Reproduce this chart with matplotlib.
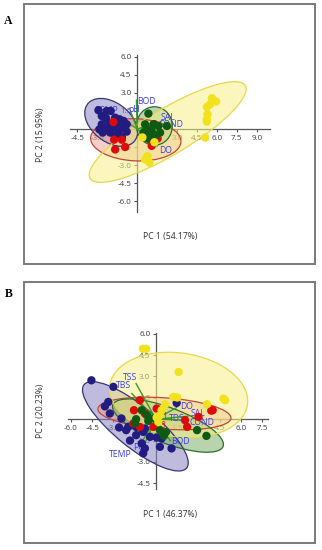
import matplotlib
matplotlib.use("Agg")
import matplotlib.pyplot as plt
from matplotlib.patches import Ellipse, Rectangle
import numpy as np

plt.rcParams['font.family'] = ['Open Sans', 'DejaVu Sans']

# ---------------- Panel A data ----------------
a_navy_x = [-2.91, -2.29, -1.99, -2.66, -2.33, -1.65, -1.32, -1.02, -0.78, -2.66, -2.08,
            -1.53, -2.84, -2.29, -1.78, -1.15, -2.03, -2.59, -1.40, -0.78, -1.15, -1.65]
a_navy_y = [1.56, 1.50, 1.50, 1.08, 0.89, 0.94, 0.81, 0.67, 0.39, 0.39, 0.44,
            0.39, -0.03, -0.03, 0.11, 0.11, -0.30, -0.30, -0.30, -0.22, -0.67, -0.58]
a_red_x = [-1.78, -1.73, -1.65, -1.15, -0.90, 0.98, 1.54, 1.10, 1.30]
a_red_y = [0.58, -0.89, -1.70, -0.89, -1.50, -0.89, -0.80, -1.40, 0.40]
a_green_x = [0.85, 0.60, 1.23, 1.60, 0.73, 1.10, 0.48, 0.98, 1.36, 1.73, 2.24, 0.78]
a_green_y = [1.28, 0.39, 0.39, 0.25, -0.03, -0.17, -0.30, -0.44, -0.58, -0.30, 0.25, -0.78]
a_yellow_x = [5.63, 5.95, 5.50, 5.25, 5.30, 5.25, 5.25, 5.12, 0.78, 0.60, 0.93, 0.40, 1.30]
a_yellow_y = [2.56, 2.28, 2.06, 1.83, 1.22, 0.80, 0.61, -0.72, -2.25, -2.53, -2.80, -0.70, -1.10]

# confidence ellipses: centre x, centre y, width, height, angle (navy, red, green, yellow)
a_ell_cx = [-1.95, -0.10, 1.30, 2.30]
a_ell_cy = [0.55, -0.90, 0.25, -0.25]
a_ell_w = [4.7, 6.8, 2.7, 14.0]
a_ell_h = [3.1, 3.5, 3.2, 3.7]
a_ell_ang = [-45, -3, 0, 33.8]

a_load_names = ["BOD", "pH", "TEMP", "SAL", "COND", "DO"]
a_load_x = [-0.05, -0.50, -1.30, 1.80, 2.30, 1.50]
a_load_y = [2.40, 1.50, 1.00, 0.60, 0.39, -1.42]
a_lab_x = [0.00, -0.70, -3.10, 1.80, 1.60, 1.65]
a_lab_y = [2.28, 1.62, 1.50, 0.98, 0.40, -1.77]

# ---------------- Panel B data ----------------
b_navy_x = [-4.55, -3.00, -3.36, -3.60, -3.25, -2.43, -2.60, -1.95, -2.10, -1.40, -0.78,
            -0.90, -0.42, 0.05, 0.40, -1.00, 0.28, 1.10, -0.78, -0.90, 1.46, -1.83, -1.40]
b_navy_y = [2.73, 2.27, 1.21, 0.90, 0.40, 0.05, -0.58, -0.54, -0.77, -0.54, -0.65,
            -0.89, -1.24, -1.28, -1.35, -1.70, -1.94, -2.05, -2.05, -2.40, 1.14, -1.50, -1.12]
b_red_x = [-1.13, -1.55, 0.05, -0.78, 2.05, 2.20, 3.00, 4.00, -1.13, -0.18, -1.60, 3.90]
b_red_y = [1.33, 0.63, 0.75, 0.40, -0.07, -0.54, 0.16, 0.63, -0.54, -0.54, -0.30, 0.60]
b_green_x = [-1.00, -0.64, -1.40, -0.14, -0.54, -1.48, 0.28, 0.70, 0.56, 2.90, 3.56]
b_green_y = [0.63, 0.28, 0.00, 0.05, -0.12, -0.30, -0.77, -0.91, -1.17, -0.77, -1.17]
b_yellow_x = [-0.92, -0.69, 1.60, 1.22, 1.50, 4.76, 4.88, 3.60, 0.64, 0.40, 0.28, 0.05, 0.17]
b_yellow_y = [4.94, 4.94, 3.31, 1.56, 1.52, 1.45, 1.33, 1.05, 1.05, 0.63, 0.28, 0.12, -0.20]

b_ell_cx = [-1.45, 0.60, 0.85, 1.60]
b_ell_cy = [-0.50, 0.40, -0.45, 1.70]
b_ell_w = [9.3, 9.4, 8.3, 9.8]
b_ell_h = [2.9, 2.2, 2.5, 5.9]
b_ell_ang = [-39, -4, -20.6, -8]

b_load_names = ["TSS", "TBS", "DO", "SAL", "COND", "TDS", "BOD", "TEMP", "PO"]
b_load_x = [-1.40, -1.70, 1.46, 2.26, 2.26, 1.00, 1.00, -1.13, -0.80]
b_load_y = [2.50, 1.80, 0.82, 0.21, -0.07, 0.05, -1.50, -1.80, -1.70]
b_lab_x = [-2.31, -2.80, 1.70, 2.45, 2.40, 0.90, 1.10, -3.30, -1.60]
b_lab_y = [2.96, 2.38, 0.86, 0.42, -0.25, 0.02, -1.58, -2.45, -2.00]
b_red_lab = ["1", "3"]
b_red_lab_x = [0.45, 0.30]
b_red_lab_y = [0.21, -0.42]

# ---------------- styling ----------------
W, H = 322, 550
fig = plt.figure(figsize=(W / 100, H / 100), dpi=100)

pt_col = ["#221c80", "#dd0a0a", "#0e5a12", "#f2e21e"]
ell_face = ["#8a84c0", "#eba08c", "#7eb06a", "#f6ef8a"]
ell_edge = ["#3a3478", "#c2463a", "#2e6e2e", "#e6d84a"]
ell_alpha = [0.55, 0.5, 0.55, 0.55]
lab_col = "#3a3af0"
line_col = "#3c9a2c"


def frame(y0, y1):
    r = Rectangle((24 / W, 1 - y1 / H), (315 - 24) / W, (y1 - y0) / H,
                  transform=fig.transFigure, fill=False, edgecolor="#7a7a7a", lw=1.4)
    fig.patches.append(r)


def panel(px, py, xlim, ylim, xt, yt, series, ells, loads, xlabel, ylabel, lab_xy, letter, letter_y):
    x0, x1, y0, y1 = px[0], px[1], py[0], py[1]
    ax = fig.add_axes([x0 / W, 1 - y1 / H, (x1 - x0) / W, (y1 - y0) / H])
    ax.set_xlim(*xlim)
    ax.set_ylim(*ylim)
    ax.patch.set_alpha(0)
    for s in ["top", "right"]:
        ax.spines[s].set_visible(False)
    for s in ["left", "bottom"]:
        ax.spines[s].set_position(("data", 0))
        ax.spines[s].set_color("#555555")
        ax.spines[s].set_linewidth(0.9)
        ax.spines[s].set_zorder(1.5)
    ax.set_xticks(xt)
    ax.set_yticks(yt)
    ax.set_xticklabels([f"{v:.1f}" for v in xt])
    ax.set_yticklabels([f"{v:.1f}" for v in yt])
    ax.tick_params(direction="out", length=2.5, width=0.8, colors="#555555",
                   labelsize=5.8, labelcolor="#3a3a3a", pad=1.5)
    cx, cy, w, h, ang = ells
    for i in range(4):
        e = Ellipse((cx[i], cy[i]), w[i], h[i], angle=ang[i], facecolor=ell_face[i],
                    edgecolor="none", alpha=ell_alpha[i], zorder=2)
        ax.add_patch(e)
        e2 = Ellipse((cx[i], cy[i]), w[i], h[i], angle=ang[i], facecolor="none",
                     edgecolor=ell_edge[i], lw=0.9, zorder=2.1)
        ax.add_patch(e2)
    names, lx, ly, tx, ty = loads
    for i in range(len(names)):
        ax.plot([0, lx[i]], [0, ly[i]], color=line_col, lw=1.0, zorder=3)
    for i, (sx, sy) in enumerate(series):
        ax.scatter(sx, sy, s=36, color=pt_col[i], edgecolors="none", zorder=4 + i * 0.01)
    for i in range(len(names)):
        ax.text(tx[i], ty[i], names[i], color=lab_col, fontsize=6.2, ha="left",
                va="center", zorder=3.5)
    fig.text(170 / W, 1 - lab_xy[0] / H, xlabel, fontsize=6.2, color="#333333",
             ha="center", va="center")
    fig.text(40 / W, 1 - lab_xy[1] / H, ylabel, fontsize=6.2, color="#333333",
             ha="center", va="center", rotation=90)
    fig.text(8.5 / W, 1 - letter_y / H, letter, fontsize=8.5, fontweight="bold",
             family="Liberation Serif", ha="center", va="center")
    return ax


frame(4, 264)
frame(282, 543)

xtA = [-4.5, -3.0, -1.5, 1.5, 3.0, 4.5, 6.0, 7.5, 9.0]
ytA = [6.0, 4.5, 3.0, 1.5, -1.5, -3.0, -4.5, -6.0]
panel((70, 270), (55, 212), (-5.05, 10.0), (-6.9, 6.15), xtA, ytA,
      [(a_navy_x, a_navy_y), (a_red_x, a_red_y), (a_green_x, a_green_y), (a_yellow_x, a_yellow_y)],
      (a_ell_cx, a_ell_cy, a_ell_w, a_ell_h, a_ell_ang),
      (a_load_names, a_load_x, a_load_y, a_lab_x, a_lab_y),
      "PC 1 (54.17%)", "PC 2 (15.95%)", (237, 135), "A", 21)

xtB = [-6.0, -4.5, -3.0, -1.5, 1.5, 3.0, 4.5, 6.0, 7.5]
ytB = [6.0, 4.5, 3.0, 1.5, -1.5, -3.0, -4.5]
axB = panel((68, 268), (333, 489), (-6.2, 7.9), (-4.9, 6.05), xtB, ytB,
            [(b_navy_x, b_navy_y), (b_red_x, b_red_y), (b_green_x, b_green_y), (b_yellow_x, b_yellow_y)],
            (b_ell_cx, b_ell_cy, b_ell_w, b_ell_h, b_ell_ang),
            (b_load_names, b_load_x, b_load_y, b_lab_x, b_lab_y),
            "PC 1 (46.37%)", "PC 2 (20.23%)", (515, 411), "B", 294)
for t, x, y in zip(b_red_lab, b_red_lab_x, b_red_lab_y):
    axB.text(x, y, t, color="#e02020", fontsize=6.2, ha="left", va="center", zorder=3.6)

fig.savefig("out.png", dpi=100)
